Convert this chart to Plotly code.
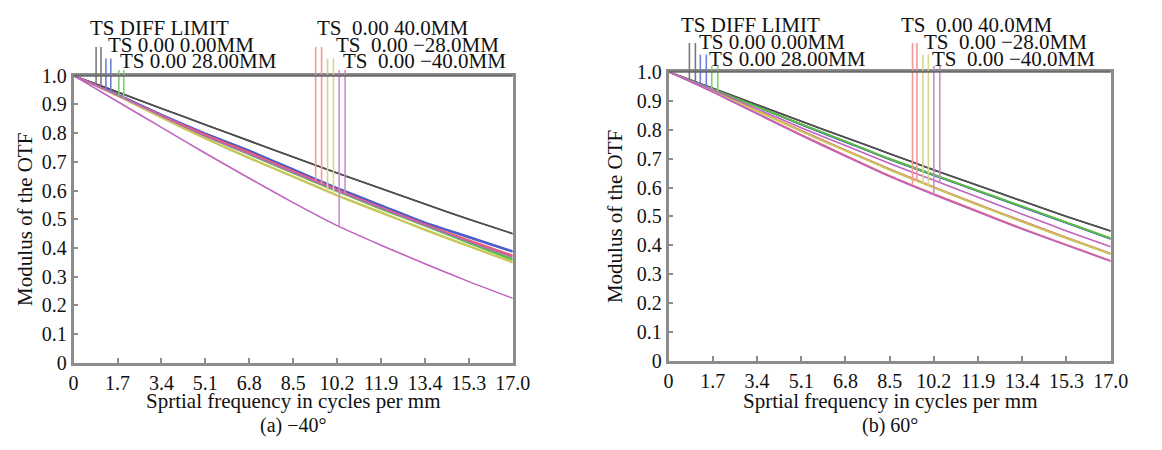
import numpy as np
import plotly.graph_objects as go

# ---------------- data ----------------
freq = [0, 1.7, 3.4, 5.1, 6.8, 8.5, 10.2, 11.9, 13.6, 15.3, 17.0]
x_tick_text = ["0", "1.7", "3.4", "5.1", "6.8", "8.5", "10.2", "11.9", "13.4", "15.3", "17.0"]
y_tick_vals = [0, 0.1, 0.2, 0.3, 0.4, 0.5, 0.6, 0.7, 0.8, 0.9, 1.0]
y_tick_text = ["0", "0.1", "0.2", "0.3", "0.4", "0.5", "0.6", "0.7", "0.8", "0.9", "1.0"]

field_labels = ["TS DIFF LIMIT", "TS 0.00 0.00MM", "TS 0.00 28.00MM",
                "TS\u00a0 0.00 40.0MM", "TS\u00a0 0.00 \u221228.0MM", "TS\u00a0 0.00 \u221240.0MM"]

# (a) -40 deg  (T and S curves per field)
left_diff = [1, 0.943, 0.886, 0.829, 0.773, 0.717, 0.661, 0.607, 0.553, 0.500, 0.450]
left_f0_t = [1, 0.935, 0.865, 0.800, 0.740, 0.675, 0.610, 0.550, 0.490, 0.440, 0.390]
left_f0_s = [1, 0.935, 0.864, 0.798, 0.737, 0.672, 0.607, 0.547, 0.487, 0.436, 0.386]
left_f28_t = [1, 0.932, 0.860, 0.790, 0.728, 0.663, 0.600, 0.538, 0.480, 0.420, 0.362]
left_f28_s = [1, 0.931, 0.858, 0.788, 0.725, 0.660, 0.597, 0.535, 0.477, 0.417, 0.358]
left_f40_t = [1, 0.933, 0.862, 0.795, 0.733, 0.668, 0.604, 0.542, 0.483, 0.428, 0.375]
left_f40_s = [1, 0.932, 0.860, 0.792, 0.730, 0.665, 0.601, 0.540, 0.481, 0.425, 0.372]
left_fm28_t = [1, 0.930, 0.855, 0.782, 0.715, 0.650, 0.585, 0.525, 0.465, 0.408, 0.352]
left_fm28_s = [1, 0.929, 0.853, 0.780, 0.712, 0.647, 0.582, 0.522, 0.462, 0.405, 0.349]
left_fm40_t = [1, 0.910, 0.820, 0.730, 0.643, 0.558, 0.478, 0.410, 0.345, 0.283, 0.225]
left_fm40_s = [1, 0.932, 0.860, 0.790, 0.728, 0.664, 0.600, 0.540, 0.480, 0.423, 0.368]

# (b) 60 deg
right_diff = [1, 0.943, 0.886, 0.829, 0.773, 0.717, 0.661, 0.607, 0.553, 0.500, 0.450]
right_f0_t = [1, 0.940, 0.880, 0.818, 0.758, 0.698, 0.643, 0.588, 0.533, 0.478, 0.423]
right_f0_s = [1, 0.940, 0.879, 0.817, 0.757, 0.697, 0.642, 0.587, 0.532, 0.477, 0.422]
right_f28_t = [1, 0.940, 0.880, 0.820, 0.760, 0.700, 0.645, 0.590, 0.535, 0.480, 0.425]
right_f28_s = [1, 0.940, 0.879, 0.819, 0.759, 0.699, 0.644, 0.589, 0.534, 0.479, 0.424]
right_f40_t = [1, 0.931, 0.857, 0.783, 0.711, 0.641, 0.578, 0.518, 0.458, 0.402, 0.347]
right_f40_s = [1, 0.935, 0.866, 0.797, 0.730, 0.664, 0.602, 0.542, 0.484, 0.427, 0.372]
right_fm28_t = [1, 0.935, 0.865, 0.795, 0.728, 0.662, 0.600, 0.540, 0.482, 0.425, 0.370]
right_fm28_s = [1, 0.935, 0.864, 0.794, 0.727, 0.661, 0.599, 0.539, 0.481, 0.424, 0.369]
right_fm40_t = [1, 0.930, 0.855, 0.780, 0.708, 0.638, 0.575, 0.515, 0.456, 0.400, 0.345]
right_fm40_s = [1, 0.937, 0.872, 0.807, 0.745, 0.683, 0.625, 0.566, 0.508, 0.450, 0.395]

# ---------------- styling ----------------
FONT = "Liberation Serif"
W, H = 1162, 450
curve_colors = ["#4f4f4f", "#4a5cc6", "#58bd42", "#ee5f6a", "#c6c65a", "#c063c0"]
marker_colors = ["#7a7a7a", "#7080d8", "#80d070", "#f49a9a", "#d6d68e", "#cc8ccc"]
FRAME = "#8c8c8c"

# pixel boxes of the plot areas
left_box = dict(x0=70, x1=518, y0=68, y1=370)
right_box = dict(x0=677, x1=1128, y0=64, y1=368)


def dom_x(b):
    return [b["x0"] / W, b["x1"] / W]


def dom_y(b):
    return [(H - b["y1"]) / H, (H - b["y0"]) / H]


fig = go.Figure()

panels = [
    ("x", "y", [left_diff, left_diff], [left_f0_t, left_f0_s], [left_f28_t, left_f28_s],
     [left_f40_t, left_f40_s], [left_fm28_t, left_fm28_s], [left_fm40_t, left_fm40_s]),
    ("x2", "y2", [right_diff, right_diff], [right_f0_t, right_f0_s], [right_f28_t, right_f28_s],
     [right_f40_t, right_f40_s], [right_fm28_t, right_fm28_s], [right_fm40_t, right_fm40_s]),
]

for p in panels:
    xa, ya = p[0], p[1]
    for i, pair in enumerate(p[2:]):
        for j, ys in enumerate(pair):
            fig.add_trace(go.Scatter(
                x=freq, y=ys, mode="lines", xaxis=xa, yaxis=ya,
                line=dict(color=curve_colors[i], width=1.6, shape="spline", smoothing=0.6),
                showlegend=False, hoverinfo="skip",
                name=field_labels[i] + (" T" if j == 0 else " S")))

# legend marker lines (pairs of vertical lines dropping to each curve)
left_marker_x = [(0.87, 1.06), (1.25, 1.44), (1.75, 1.94), (9.37, 9.60), (9.83, 10.06), (10.28, 10.51)]
right_marker_x = [(0.80, 1.03), (1.22, 1.45), (1.66, 1.89), (9.38, 9.55), (9.78, 9.99), (10.20, 10.43)]
marker_top = [1.10, 1.06, 1.02, 1.10, 1.06, 1.02]

shapes = []
for p, mx in zip(panels, [left_marker_x, right_marker_x]):
    xa, ya = p[0], p[1]
    for i, pair in enumerate(p[2:]):
        for j, ys in enumerate(pair):
            xv = mx[i][j]
            yb = float(np.interp(xv, freq, ys))
            shapes.append(dict(type="line", xref=xa + " domain", yref=ya + " domain",
                               x0=xv / 17.0, x1=xv / 17.0, y0=marker_top[i], y1=yb,
                               line=dict(color=marker_colors[i], width=1.6), layer="above"))

# darker top edge at MTF = 1.0
for xa, ya in [("x", "y"), ("x2", "y2")]:
    shapes.append(dict(type="line", xref=xa + " domain", yref=ya + " domain",
                       x0=0, x1=1, y0=1, y1=1, line=dict(color="#6a6a6a", width=2), layer="above"))

annotations = []


def px_ann(text, x, y, size=21, xanchor="left", textangle=0):
    annotations.append(dict(text=text, x=x / W, y=(H - y) / H, xref="paper", yref="paper",
                            xanchor=xanchor, yanchor="middle", showarrow=False,
                            textangle=textangle, font=dict(family=FONT, size=size, color="#111")))


# legend texts
left_leg_pos = [(85, 18), (103, 36), (115, 53), (316, 18), (336, 36), (343, 53)]
right_leg_pos = [(688, 15), (706, 33), (716, 50), (912, 15), (936, 33), (944, 50)]
for lab, (x, y) in zip(field_labels, left_leg_pos):
    px_ann(lab, x, y)
for lab, (x, y) in zip(field_labels, right_leg_pos):
    px_ann(lab, x, y)

# axis titles and captions
for b, cap, ytx in [(left_box, "(a) \u221240\u00b0", 21), (right_box, "(b) 60\u00b0", 623)]:
    cx = (b["x0"] + b["x1"]) / 2
    px_ann("Sprtial frequency in cycles per mm", cx, 410, size=21, xanchor="center")
    px_ann(cap, cx, 436, size=20, xanchor="center")
    px_ann("Modulus of the OTF", ytx, (b["y0"] + b["y1"]) / 2, size=21, xanchor="center", textangle=-90)

axis_common = dict(showgrid=False, zeroline=False, showline=True, linecolor=FRAME, linewidth=2.5,
                   mirror=True, ticks="inside", ticklen=5, tickcolor=FRAME, tickwidth=1.5,
                   tickfont=dict(family=FONT, size=20, color="#111"))

fig.update_layout(
    width=W, height=H, margin=dict(l=0, r=0, t=0, b=0),
    paper_bgcolor="white", plot_bgcolor="white", showlegend=False,
    xaxis=dict(domain=dom_x(left_box), range=[0, 17], tickvals=freq, ticktext=x_tick_text,
               anchor="y", **axis_common),
    yaxis=dict(domain=dom_y(left_box), range=[0, 1.0], tickvals=y_tick_vals, ticktext=y_tick_text,
               anchor="x", **axis_common),
    xaxis2=dict(domain=dom_x(right_box), range=[0, 17], tickvals=freq, ticktext=x_tick_text,
                anchor="y2", **axis_common),
    yaxis2=dict(domain=dom_y(right_box), range=[0, 1.0], tickvals=y_tick_vals, ticktext=y_tick_text,
                anchor="x2", **axis_common),
    shapes=shapes, annotations=annotations,
)

fig.write_html("out.html", config={"displayModeBar": False},
               post_script="document.body.style.margin='0';document.body.style.overflow='hidden';")
